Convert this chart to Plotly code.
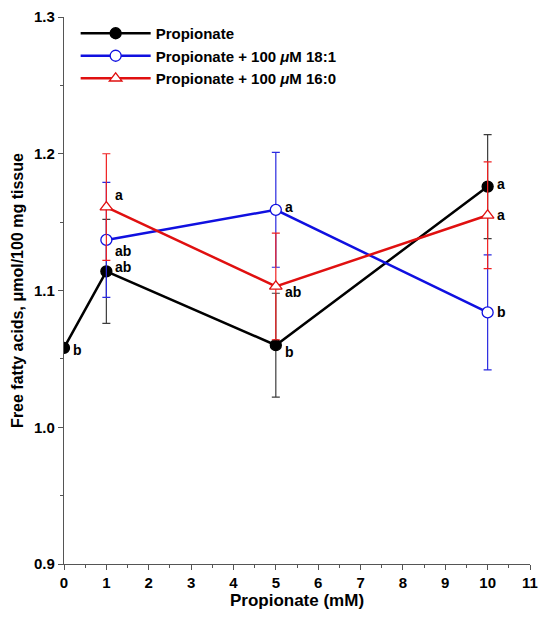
import plotly.graph_objects as go

conc_black = [0, 1, 5, 10]
ffa_black = [1.058, 1.114, 1.060, 1.176]
err_black = [0.0, 0.038, 0.038, 0.038]
lab_black = ["b", "ab", "b", "a"]

conc_blue = [1, 5, 10]
ffa_blue = [1.137, 1.159, 1.084]
err_blue = [0.042, 0.042, 0.042]
lab_blue = ["ab", "a", "b"]

conc_red = [1, 5, 10]
ffa_red = [1.161, 1.103, 1.155]
err_red = [0.039, 0.039, 0.039]
lab_red = ["a", "ab", "a"]

FONT = "Liberation Sans, Arial, Helvetica, sans-serif"

fig = go.Figure()

series = [
    ("Propionate", conc_black, ffa_black, err_black, "black", "circle", "black", "rgba(60,60,60,1)", 11),
    ("Propionate + 100 <i>μ</i>M 18:1", conc_blue, ffa_blue, err_blue, "#1010e0", "circle", "white", "#2a2ae0", 11),
    ("Propionate + 100 <i>μ</i>M 16:0", conc_red, ffa_red, err_red, "#e01010", "triangle-up", "white", "#f02020", 11),
]

for name, x, y, e, col, sym, fill, ecol, msize in series:
    fig.add_trace(go.Scatter(
        x=x, y=y, name=name, mode="lines+markers",
        line=dict(color=col, width=2.5),
        marker=dict(symbol=sym, size=msize, color=fill, line=dict(color=col, width=1.3)),
        error_y=dict(type="data", array=e, visible=True, color=ecol, thickness=1.2, width=4),
    ))

# significance letters
label_sets = [
    (conc_black, ffa_black, lab_black, [(8, -2), (8, 4), (8, -7), (8, 3)]),
    (conc_blue, ffa_blue, lab_blue, [(8, -11), (8, 3), (8, 0)]),
    (conc_red, ffa_red, lab_red, [(8, 12), (8, -6), (8, 0)]),
]
for xs, ys, labs, offs in label_sets:
    for xv, yv, t, (dx, dy) in zip(xs, ys, labs, offs):
        fig.add_annotation(x=xv, y=yv, text=t, showarrow=False, xanchor="left",
                           yanchor="middle", xshift=dx, yshift=dy, borderpad=0,
                           font=dict(family=FONT, size=14, color="black", weight="bold"))

fig.update_layout(
    width=546, height=619,
    margin=dict(l=64, r=8, t=14, b=55),
    plot_bgcolor="white", paper_bgcolor="white",
    font=dict(family=FONT, size=15, color="black"),
    showlegend=True,
    legend=dict(x=0.025, y=1.0, xanchor="left", yanchor="top", bgcolor="rgba(0,0,0,0)",
                font=dict(family=FONT, size=15, color="black", weight="bold"),
                tracegroupgap=0, itemwidth=70),
    xaxis=dict(range=[0, 11], dtick=1, tick0=0, showgrid=False, zeroline=False,
               showline=True, linecolor="#555", linewidth=1.2, ticks="outside",
               ticklen=5, tickcolor="#555",
               minor=dict(dtick=0.5, ticks="outside", ticklen=3, tickcolor="#555"),
               tickfont=dict(family=FONT, size=15, weight="bold"),
               title=dict(text="Propionate (mM)", standoff=4,
                          font=dict(family=FONT, size=17, weight="bold"))),
    yaxis=dict(range=[0.9, 1.3], dtick=0.1, tick0=0.9, tickformat=".1f", showgrid=False,
               zeroline=False, showline=True, linecolor="#555", linewidth=1.2,
               ticks="outside", ticklen=5, tickcolor="#555",
               minor=dict(dtick=0.05, ticks="outside", ticklen=3, tickcolor="#555"),
               tickfont=dict(family=FONT, size=15, weight="bold"),
               title=dict(text="Free fatty acids, μmol/100 mg tissue", standoff=6,
                          font=dict(family=FONT, size=16, weight="bold"))),
)

fig.write_html("out.html")
